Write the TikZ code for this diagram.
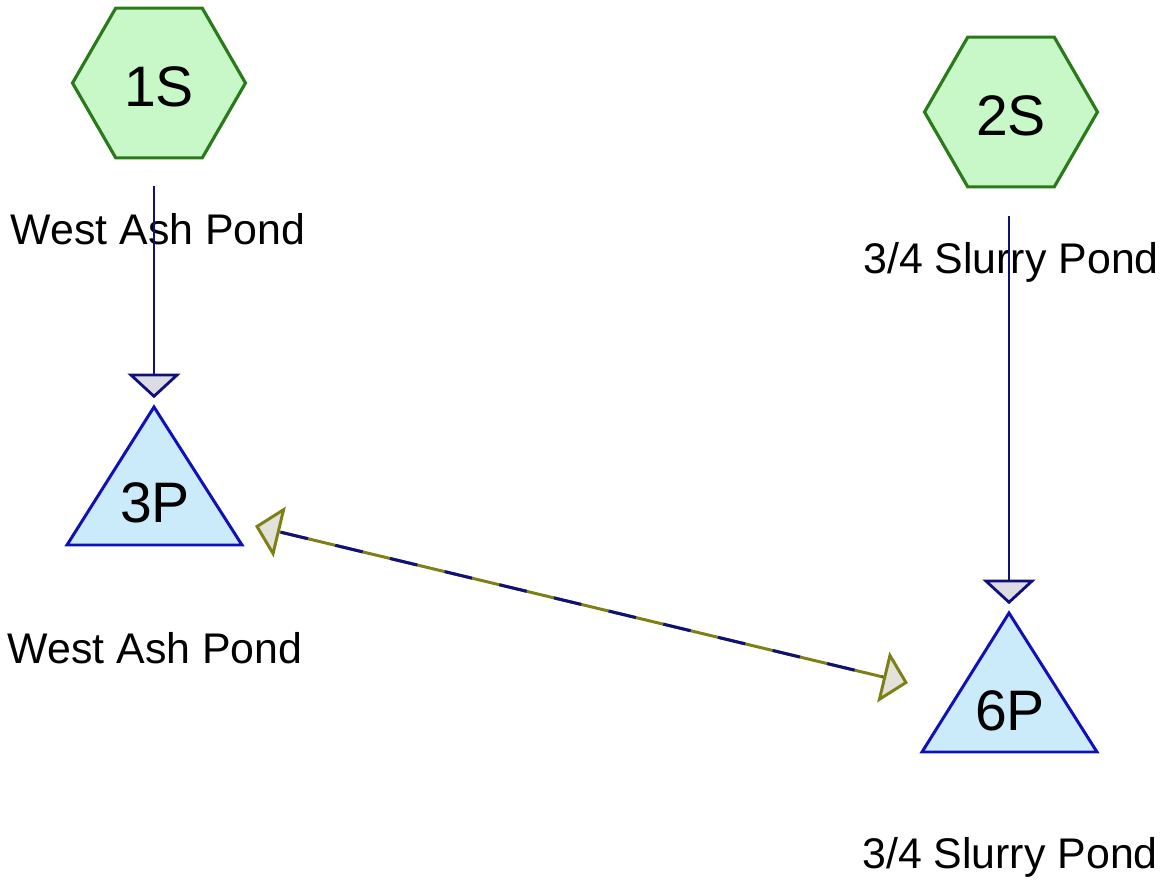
\documentclass[tikz,border=0pt]{standalone}
\usepackage{fontspec}
\setmainfont{Liberation Sans}
\usetikzlibrary{shapes.geometric,arrows.meta}
\definecolor{hexfill}{HTML}{C8F8C8}
\definecolor{hexline}{HTML}{2A7A1A}
\definecolor{trifill}{HTML}{CCEBFA}
\definecolor{triline}{HTML}{1010B8}
\definecolor{flow}{HTML}{10107A}
\definecolor{headfill}{HTML}{DCDCE4}
\definecolor{olivelink}{HTML}{7F7F18}
\definecolor{headfilltwo}{HTML}{E2E2DA}
\begin{document}
\begin{tikzpicture}[x=0.02cm,y=-0.02cm,
  subcat/.style={regular polygon, regular polygon sides=6, minimum size=3.46cm,
    inner sep=0pt, draw=hexline, fill=hexfill, line width=1.8pt,
    font=\fontsize{32.5pt}{36pt}\selectfont, text height=27pt, text depth=0pt},
  pondtri/.style={draw=triline, fill=trifill, line width=1.7pt, line join=miter},
  pondtext/.style={font=\fontsize{32.5pt}{36pt}\selectfont, inner sep=0pt},
  caption/.style={font=\fontsize{24.4pt}{28pt}\selectfont, anchor=base, inner sep=0pt},
  flowarrow/.style={draw=flow, line width=1.5pt,
    -{Triangle[length=14pt,width=30pt,line width=1.6pt,fill=headfill]}},
  linkhead/.tip={Triangle[length=14.5pt,width=29.5pt,line width=1.7pt,fill=headfilltwo]},
  linkbase/.style={draw=olivelink, line width=1.7pt, linkhead-linkhead},
  linkdash/.style={draw=flow, line width=1.7pt, dash pattern=on 16pt off 16pt,
    shorten <=15pt, shorten >=15pt}
]
\useasboundingbox (0,0) rectangle (1172,884);

% captions (drawn first: connectors pass over them)
\node[caption] (l1) at (158,245) {West Ash Pond};
\node[caption] (l2) at (1011,274) {3/4 Slurry Pond};
\node[caption] (l3) at (155,663) {West Ash Pond};
\node[caption] (l4) at (1010,868) {3/4 Slurry Pond};

% subcatchments
\node[subcat] (s1) at (159,83) {1S};
\node[subcat] (s2) at (1011,112) {2S};

% ponds
\coordinate (p3top) at (154,407);
\draw[pondtri] (p3top) -- (242,545) -- (67,545) -- cycle;
\node[pondtext] (p3) at (155,503) {3P};

\coordinate (p6top) at (1009,613);
\draw[pondtri] (p6top) -- (1097,752) -- (922,752) -- cycle;
\node[pondtext] (p6) at (1010,711) {6P};

% flows
\draw[flowarrow, shorten <=15.3pt, shorten >=5pt] (s1.south -| p3top) -- (p3top);
\draw[flowarrow, shorten <=15.9pt, shorten >=5pt] (s2.south -| p6top) -- (p6top);

% two-way link
\coordinate (e3) at (255,526);
\coordinate (e6) at (908,683);
\draw[linkbase] (e3) -- (e6);
\draw[linkdash] (e3) -- (e6);
\end{tikzpicture}
\end{document}
